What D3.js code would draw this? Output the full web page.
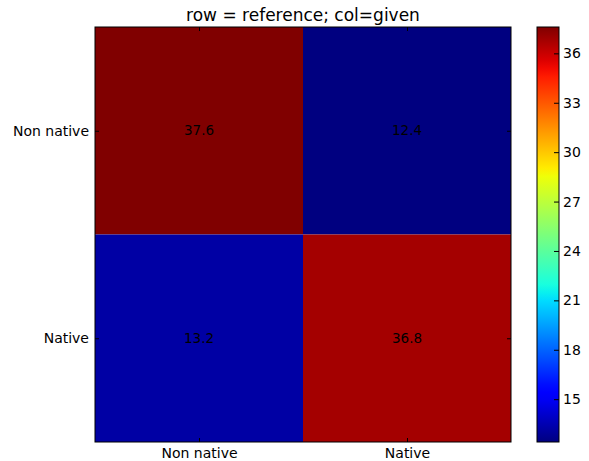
<!DOCTYPE html>
<html>
<head>
  <script src="https://d3js.org/d3.v7.min.js"></script>
  <style>
    body { margin: 0; background: #fff; }
    text { font-family: "DejaVu Sans", sans-serif; }
  </style>
</head>
<body>
  <script>
    var rows = ["Non native", "Native"];
    var cols = ["Non native", "Native"];
    var values = [[37.6, 12.4], [13.2, 36.8]];
    var cbTicks = [15, 18, 21, 24, 27, 30, 33, 36];
    var title = "row = reference; col=given";

    var width = 589, height = 461;
    var svg = d3.select("body").append("svg")
      .attr("width", width).attr("height", height);

    var pL = 95, pT = 27, pR = 511, pB = 442;

    var vmin = 12.4, vmax = 37.6;

    // matplotlib jet
    var rS = d3.scaleLinear().domain([0, 0.35, 0.66, 0.89, 1]).range([0, 0, 1, 1, 0.5]).clamp(true);
    var gS = d3.scaleLinear().domain([0, 0.125, 0.375, 0.64, 0.91, 1]).range([0, 0, 1, 1, 0, 0]).clamp(true);
    var bS = d3.scaleLinear().domain([0, 0.11, 0.34, 0.65, 1]).range([0.5, 1, 1, 0, 0]).clamp(true);
    function jet(t) {
      return d3.rgb(rS(t) * 255, gS(t) * 255, bS(t) * 255).toString();
    }
    var norm = d3.scaleLinear().domain([vmin, vmax]).range([0, 1]);

    var x = d3.scaleBand().domain(cols).range([pL, pR]);
    var y = d3.scaleBand().domain(rows).range([pT, pB]);

    var cells = [];
    rows.forEach(function(r, i) {
      cols.forEach(function(c, j) {
        cells.push({ row: r, col: c, v: values[i][j] });
      });
    });

    svg.selectAll("rect.cell").data(cells).enter().append("rect")
      .attr("class", "cell")
      .attr("x", function(d) { return x(d.col); })
      .attr("y", function(d) { return y(d.row); })
      .attr("width", x.bandwidth())
      .attr("height", y.bandwidth())
      .attr("fill", function(d) { return jet(norm(d.v)); });

    svg.selectAll("text.val").data(cells).enter().append("text")
      .attr("class", "val")
      .attr("x", function(d) { return x(d.col) + x.bandwidth() / 2; })
      .attr("y", function(d) { return y(d.row) + y.bandwidth() / 2; })
      .attr("dy", "0.35em")
      .attr("text-anchor", "middle")
      .attr("font-size", 13.5)
      .attr("fill", "#000")
      .text(function(d) { return d.v.toFixed(1); });

    // axes with inward ticks
    var xc = d3.scalePoint().domain(cols).range([pL + x.bandwidth() / 2, pR - x.bandwidth() / 2]);
    var yc = d3.scalePoint().domain(rows).range([pT + y.bandwidth() / 2, pB - y.bandwidth() / 2]);

    function styleAxis(g) {
      g.select(".domain").remove();
      g.selectAll(".tick line").attr("stroke", "#000");
      g.selectAll(".tick text").attr("font-size", 14).attr("fill", "#000")
        .style("font-family", "DejaVu Sans, sans-serif");
    }

    svg.append("g").attr("transform", "translate(0," + pB + ")")
      .call(d3.axisBottom(xc).tickSizeInner(-4).tickPadding(6).tickSizeOuter(0))
      .call(styleAxis);
    svg.append("g").attr("transform", "translate(0," + pT + ")")
      .call(d3.axisTop(xc).tickSizeInner(-4).tickSizeOuter(0).tickFormat(""))
      .call(styleAxis);
    svg.append("g").attr("transform", "translate(" + pL + ",0)")
      .call(d3.axisLeft(yc).tickSizeInner(-4).tickPadding(6).tickSizeOuter(0))
      .call(styleAxis);
    svg.append("g").attr("transform", "translate(" + pR + ",0)")
      .call(d3.axisRight(yc).tickSizeInner(-4).tickSizeOuter(0).tickFormat(""))
      .call(styleAxis);

    svg.append("rect")
      .attr("x", pL).attr("y", pT)
      .attr("width", pR - pL).attr("height", pB - pT)
      .attr("fill", "none").attr("stroke", "#000").attr("stroke-width", 1);

    svg.append("text")
      .attr("x", (pL + pR) / 2).attr("y", 21)
      .attr("text-anchor", "middle")
      .attr("font-size", 17)
      .attr("fill", "#000")
      .text(title);

    // colorbar
    var cbL = 537, cbR = 559;
    var grad = svg.append("defs").append("linearGradient")
      .attr("id", "jetgrad")
      .attr("x1", 0).attr("y1", 1).attr("x2", 0).attr("y2", 0);
    d3.range(0, 1.0001, 0.02).forEach(function(t) {
      grad.append("stop").attr("offset", t).attr("stop-color", jet(t));
    });
    svg.append("rect")
      .attr("x", cbL).attr("y", pT)
      .attr("width", cbR - cbL).attr("height", pB - pT)
      .attr("fill", "url(#jetgrad)")
      .attr("stroke", "#000").attr("stroke-width", 1);

    var cbY = d3.scaleLinear().domain([vmin, vmax]).range([pB, pT]);
    svg.append("g").attr("transform", "translate(" + cbR + ",0)")
      .call(d3.axisRight(cbY).tickValues(cbTicks).tickSizeInner(-5).tickPadding(4).tickSizeOuter(0))
      .call(styleAxis);
  </script>
</body>
</html>
